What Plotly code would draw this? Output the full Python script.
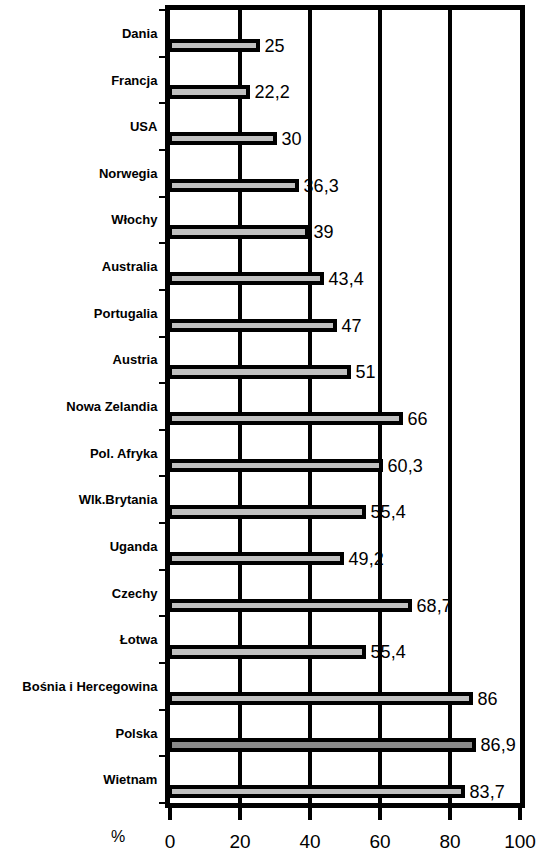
import plotly.graph_objects as go

countries = ["Dania", "Francja", "USA", "Norwegia", "Włochy", "Australia",
             "Portugalia", "Austria", "Nowa Zelandia", "Pol. Afryka",
             "Wlk.Brytania", "Uganda", "Czechy", "Łotwa",
             "Bośnia i Hercegowina", "Polska", "Wietnam"]
values = [25, 22.2, 30, 36.3, 39, 43.4, 47, 51, 66, 60.3,
          55.4, 49.2, 68.7, 55.4, 86, 86.9, 83.7]
value_labels = ["25", "22,2", "30", "36,3", "39", "43,4", "47", "51", "66",
                "60,3", "55,4", "49,2", "68,7", "55,4", "86", "86,9", "83,7"]
x_ticks = [0, 20, 40, 60, 80, 100]

positions = list(range(len(countries)))
colors = ["#8a8a8a" if c == "Polska" else "#c0c0c0" for c in countries]

FONT = "Liberation Sans, Arial, sans-serif"

fig = go.Figure()
fig.add_trace(go.Bar(
    x=values, y=positions, orientation="h",
    offset=0.16, width=0.2,
    marker=dict(color=colors, line=dict(color="black", width=4)),
    text=value_labels, texttemplate="\u2009%{text}",
    textposition="outside", constraintext="none",
    textfont=dict(family=FONT, size=18, color="black"),
    cliponaxis=False,
    hoverinfo="skip",
))

fig.update_layout(
    width=539, height=854,
    margin=dict(l=170, r=19, t=10, b=51),
    paper_bgcolor="white", plot_bgcolor="white",
    showlegend=False,
    bargap=0,
    xaxis=dict(
        range=[0, 100], tickvals=x_ticks, ticktext=[str(t) for t in x_ticks],
        showgrid=True, gridcolor="black", gridwidth=4,
        showline=True, linecolor="black", linewidth=5, mirror=True,
        ticks="outside", ticklen=12, tickwidth=4, tickcolor="black",
        ticklabelstandoff=5, automargin=False,
        tickfont=dict(family=FONT, size=19, color="black"),
        zeroline=False,
    ),
    yaxis=dict(
        range=[len(countries) - 0.5, -0.5],
        tickvals=positions, ticktext=countries,
        showgrid=False, zeroline=False,
        showline=True, linecolor="black", linewidth=5, mirror=True,
        ticks="", ticklabelstandoff=5, automargin=False,
        minor=dict(tick0=-0.5, dtick=1, ticks="outside", ticklen=6,
                   tickwidth=2, tickcolor="black", showgrid=False),
        tickfont=dict(family=FONT, size=13, color="black", weight="bold"),
    ),
    annotations=[dict(
        text="%", xref="paper", yref="paper", x=0, y=0,
        xshift=-52, yshift=-33, showarrow=False,
        xanchor="center", yanchor="middle",
        font=dict(family=FONT, size=16, color="black"),
    )],
)

fig.write_html("out.html")
